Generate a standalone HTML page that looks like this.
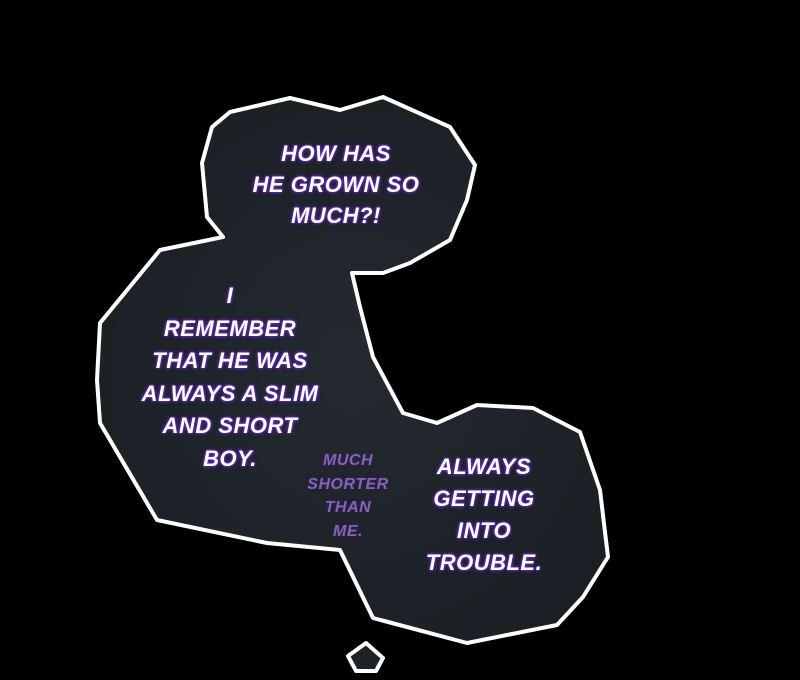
<!DOCTYPE html>
<html><head><meta charset="utf-8"><style>
html,body{margin:0;padding:0;background:#000;width:800px;height:680px;overflow:hidden}
.t{position:absolute;font-family:"Liberation Sans",sans-serif;font-weight:bold;font-style:italic;text-align:center;color:#fff;font-size:22px;letter-spacing:0.5px;text-shadow:0 0 2px #6a2fc0,0 0 3px #6a2fc0,0 0 4px #5020a0;transform:translateX(-50%);white-space:nowrap}
.s{color:#7e6aa0;font-size:16px;text-shadow:0 0 2px #3a1a70,0 0 3px #3a1a70}
</style></head><body>
<svg width="800" height="680" style="position:absolute;left:0;top:0">
<defs>
<radialGradient id="g" cx="50%" cy="50%" r="60%">
<stop offset="0" stop-color="#242a30"/><stop offset="1" stop-color="#1a1f24"/>
</radialGradient>
</defs>
<polygon fill="url(#g)" stroke="#fff" stroke-width="4" stroke-linejoin="round"
points="202,163 212,127 230,112 290,98 340,110 383,97 450,127 475,165 467,200 450,240 410,263 383,273 352,273 360,307 373,357 403,413 437,423 477,405 533,408 580,432 600,490 608,557 583,597 557,625 467,643 373,618 340,550 267,543 157,520 100,423 97,380 100,323 160,250 223,237 207,217"/>
<polygon fill="#1e2328" stroke="#fff" stroke-width="4" stroke-linejoin="round"
points="348,656 366,643 383,658 376,671 356,671"/>
</svg>
<div class="t" style="left:336px;top:138px;line-height:31px">HOW HAS<br>HE GROWN SO<br>MUCH?!</div>
<div class="t" style="left:230px;top:280px;line-height:32.5px">I<br>REMEMBER<br>THAT HE WAS<br>ALWAYS A SLIM<br>AND SHORT<br>BOY.</div>
<div class="t" style="left:484px;top:451px;line-height:32px">ALWAYS<br>GETTING<br>INTO<br>TROUBLE.</div>
<div class="t s" style="left:348px;top:449px;line-height:23.5px">MUCH<br>SHORTER<br>THAN<br>ME.</div>
</body></html>
